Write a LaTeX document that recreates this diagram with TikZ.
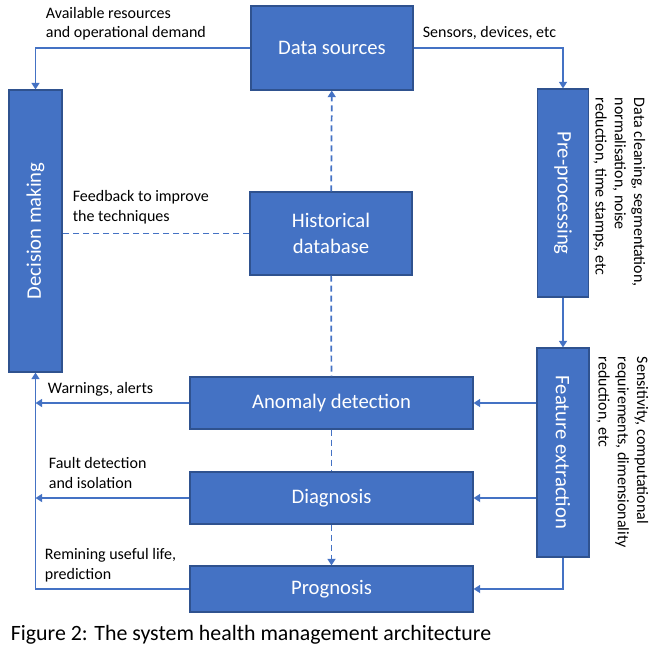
\documentclass[tikz,border=0pt]{standalone}
\usepackage{fontspec}
\setmainfont{Carlito}
\usetikzlibrary{arrows.meta}
\definecolor{boxblue}{HTML}{4472C4}
\definecolor{boxedge}{HTML}{2F528F}
\begin{document}
\begin{tikzpicture}[x=0.75pt,y=-0.75pt,line width=1.3pt,>={Triangle[length=5pt,width=6pt]},
  blk/.style={draw=boxedge,line width=0.8pt,fill=boxblue,text=white,inner sep=0pt,
    font=\fontsize{15.5}{19}\selectfont,align=center},
  flow/.style={->,boxblue},
  dflow/.style={->,boxblue,dash pattern=on 4.5pt off 3pt},
  dline/.style={boxblue,dash pattern=on 4.5pt off 3pt},
  lbl/.style={inner sep=0pt,align=left,font=\fontsize{12}{14.4}\selectfont}]
  \useasboundingbox (0,0) rectangle (655,660);
  % blocks
  \node[blk,minimum width=121.5pt,minimum height=63pt] (src) at (332,48) {Data sources};
  \node[blk,minimum width=39.75pt,minimum height=211.5pt] (dec) at (35.5,231) {\rotatebox{90}{Decision making}};
  \node[blk,minimum width=38.25pt,minimum height=156pt] (pre) at (563,193) {\rotatebox{-90}{Pre-processing}};
  \node[blk,minimum width=39pt,minimum height=156.75pt] (fe) at (563,452.5) {\rotatebox{-90}{Feature extraction}};
  \node[blk,minimum width=121.5pt,minimum height=62.25pt] (his) at (331,233.5) {Historical\\database};
  \node[blk,minimum width=212.25pt,minimum height=39pt] (ano) at (331.5,403) {Anomaly detection};
  \node[blk,minimum width=212.25pt,minimum height=39pt] (dia) at (331.5,498) {Diagnosis};
  \node[blk,minimum width=212.25pt,minimum height=34.5pt] (pro) at (331.5,589) {Prognosis};
  % solid flows
  \draw[flow] (src.west) -| (dec.north);
  \draw[flow] (src.east) -| (pre.north);
  \draw[flow] (pre) -- (fe);
  \draw[flow] (fe.west |- ano.east) -- (ano.east);
  \draw[flow] (fe.west |- dia.east) -- (dia.east);
  \draw[flow] (fe.south) |- (pro.east);
  \draw[flow] (ano.west) -- (ano.west -| dec.south);
  \draw[flow] (dia.west) -- (dia.west -| dec.south);
  \draw[flow] (pro.west) -| (dec.south);
  % dashed links of the database
  \draw[dflow] (his) -- (src);
  \draw[dline] (his.west) -- (dec.east |- his.west);
  \draw[dline] (his) -- (ano);
  \draw[dline] (ano) -- (dia);
  \draw[dflow] (dia) -- (pro);
  % labels (base = last line)
  \node[lbl,anchor=base west] at (45,37.5) {Available resources\\and operational demand};
  \node[lbl,anchor=base west] at (422,38) {Sensors, devices, etc};
  \node[lbl,anchor=base west] at (72,221) {Feedback to improve\\the techniques};
  \node[lbl,anchor=base west] at (47,393) {Warnings, alerts};
  \node[lbl,anchor=base west] at (48,488) {Fault detection\\and isolation};
  \node[lbl,anchor=base west] at (44,579) {Remining useful life,\\prediction};
  \node[lbl,rotate=-90,anchor=north west] at (646,97) {Data cleaning, segmentation,\\normalisation, noise\\reduction, time stamps, etc};
  \node[lbl,rotate=-90,anchor=north west] at (649,356) {Sensitivity, computational\\requirements, dimensionality\\reduction, etc};
  \node[inner sep=0pt,anchor=base west,font=\fontsize{16.4}{19}\selectfont] at (10,640) {Figure 2: The system health management architecture};
\end{tikzpicture}
\end{document}
